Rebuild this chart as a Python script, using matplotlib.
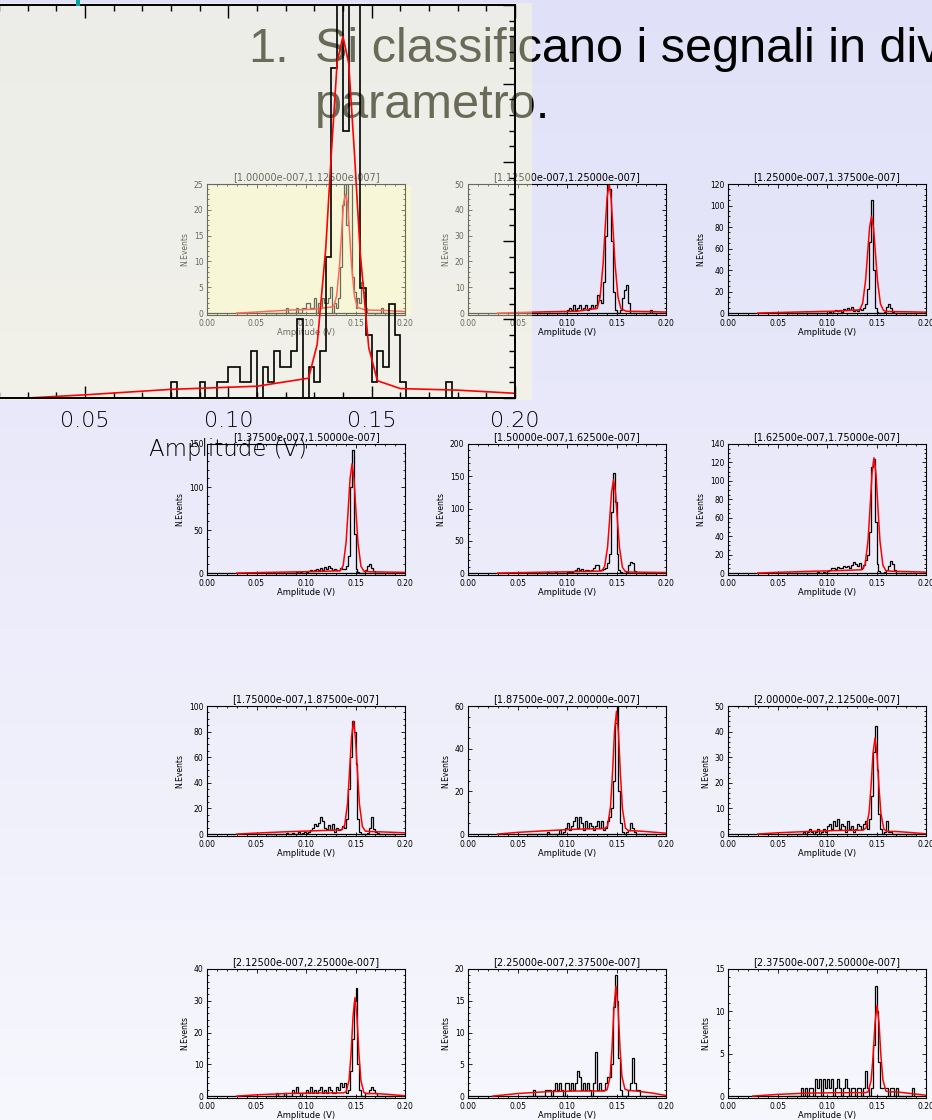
import numpy as np
import matplotlib
matplotlib.use("Agg")
import matplotlib.pyplot as plt
from matplotlib.patches import Rectangle
from matplotlib.ticker import MultipleLocator, FormatStrFormatter

W, H, DPI = 932, 1120, 100

# ---------------- data ----------------
BIN_START = 0.060
BIN_WIDTH = 0.002

titles = [
    "[1.00000e-007,1.12500e-007]", "[1.12500e-007,1.25000e-007]", "[1.25000e-007,1.37500e-007]",
    "[1.37500e-007,1.50000e-007]", "[1.50000e-007,1.62500e-007]", "[1.62500e-007,1.75000e-007]",
    "[1.75000e-007,1.87500e-007]", "[1.87500e-007,2.00000e-007]", "[2.00000e-007,2.12500e-007]",
    "[2.12500e-007,2.25000e-007]", "[2.25000e-007,2.37500e-007]", "[2.37500e-007,2.50000e-007]",
]

y_max = [25, 50, 120, 150, 200, 140, 100, 60, 50, 40, 20, 15]
y_major = [5, 10, 20, 50, 50, 20, 20, 20, 10, 10, 5, 5]
y_minor = [1, 2, 5, 10, 10, 5, 5, 5, 2, 2, 1, 1]

counts_1 = [0,0,0,0,0, 0,0,0,0,0, 1,0,0,0,0, 1,0,0,1,1, 2,2,1,1,3, 0,2,1,3,2, 2,3,5,0,2,
            1,3,9,21,28, 17,30,26,7,4, 1,3,2,6,4, 1,0,0,0,0, 0,0,0,1,0, 0,0,0,0,0]
counts_2 = [0,0,0,0,0, 0,0,0,0,0, 0,0,0,0,0, 0,0,0,0,0, 1,2,1,3,1, 2,3,1,2,3, 1,2,3,2,3,
            7,5,4,12,30, 50,48,28,8,1, 0,0,1,6,9, 11,4,0,0,0, 0,0,0,0,0, 0,0,1,0,0]
counts_3 = [0,0,0,0,0, 0,0,0,0,0, 0,0,0,0,0, 0,0,0,0,0, 0,1,0,2,3, 2,3,1,4,3, 5,3,6,2,3,
            2,4,3,5,8, 22,66,105,40,5, 1,0,0,0,1, 6,8,5,1,0, 0,0,0,0,0, 0,0,0,0,0]
counts_4 = [0,0,0,0,0, 0,0,0,0,0, 0,0,0,0,0, 1,0,1,0,0, 1,2,3,2,4, 5,3,6,4,7, 5,8,6,4,5,
            3,4,6,5,5, 8,20,100,143,45, 5,1,0,0,0, 3,8,10,6,2, 0,0,0,0,0, 0,0,0,0,0]
counts_5 = [0,0,0,0,0, 0,0,0,0,0, 1,0,0,0,1, 0,0,0,0,0, 1,2,1,3,5, 8,4,6,3,5, 4,3,5,8,12,
            12,5,4,6,8, 15,30,95,155,110, 30,5,1,0,0, 2,12,17,16,3, 0,0,0,0,0, 0,0,0,0,0]
counts_6 = [0,0,0,0,0, 0,0,0,0,0, 0,0,0,0,0, 1,0,0,1,0, 2,3,5,6,4, 7,5,6,8,7, 8,6,9,12,10,
            8,11,6,9,14, 20,45,115,124,55, 10,2,0,0,1, 3,8,13,10,3, 0,0,0,0,0, 0,0,0,0,0]
counts_7 = [0,0,0,0,0, 0,0,0,0,0, 1,0,0,1,0, 0,2,0,1,2, 1,2,3,5,8, 6,9,13,10,5, 4,7,3,8,2,
            5,3,4,6,5, 12,35,60,88,80, 55,12,2,0,0, 0,1,5,13,4, 2,1,0,0,0, 0,0,0,0,0]
counts_8 = [0,0,0,0,0, 0,0,0,0,0, 1,0,0,0,0, 0,2,0,1,3, 5,2,4,6,8, 3,8,5,2,6, 3,5,4,2,4,
            6,3,6,2,3, 6,8,12,25,52, 60,20,5,1,0, 1,2,5,3,1, 0,0,0,0,0, 0,0,0,0,0]
counts_9 = [0,0,0,0,0, 0,0,0,1,0, 1,2,1,0,1, 2,0,1,2,1, 3,4,2,5,3, 6,2,4,3,1, 5,2,3,1,2,
            4,3,2,4,5, 2,6,15,32,42, 25,8,2,0,1, 5,1,1,0,0, 0,0,0,0,0, 0,0,0,0,0]
counts_10 = [0,0,0,0,0, 1,0,0,0,1, 0,0,0,2,1, 3,1,0,1,1, 2,1,3,1,2, 1,2,3,1,2, 1,3,2,1,1,
             3,2,4,3,4, 1,2,8,18,30, 34,10,2,0,0, 1,1,2,3,2, 1,0,0,0,0, 0,0,0,0,0]
counts_11 = [0,0,0,1,0, 0,0,0,0,1, 1,1,0,1,2, 1,2,1,0,2, 2,1,2,1,2, 4,3,1,2,1, 2,1,0,2,7,
             1,2,1,1,2, 3,3,5,14,19, 15,6,1,0,0, 0,1,2,6,2, 1,1,0,0,0, 0,0,0,0,0]
counts_12 = [0,0,0,0,0, 0,0,1,0,1, 0,1,1,0,2, 1,2,0,2,1, 2,1,2,0,1, 2,1,0,1,2, 1,0,1,1,0,
             1,1,0,1,3, 1,0,1,6,13, 10,4,1,1,1, 1,0,1,1,0, 1,0,0,0,0, 0,0,0,1,0]

red_x_1 = [0.030, 0.050, 0.080, 0.110, 0.128, 0.131, 0.134, 0.136, 0.138, 0.140, 0.142, 0.144, 0.146, 0.149, 0.152, 0.160, 0.180, 0.200]
red_y_1 = [0.0, 0.2, 0.55, 0.75, 1.26, 3.4, 9.5, 15.7, 21.4, 23.0, 21.3, 15.6, 9.3, 3.2, 1.1, 0.6, 0.5, 0.3]
red_x_2 = [0.030, 0.050, 0.080, 0.110, 0.1305, 0.1335, 0.1365, 0.1385, 0.1405, 0.1425, 0.1445, 0.1465, 0.1485, 0.1515, 0.1545, 0.160, 0.180, 0.200]
red_y_2 = [0.0, 0.2, 0.5, 0.7, 1.8, 6.3, 19.3, 32.6, 44.8, 49.8, 44.7, 32.5, 19.2, 6.2, 1.7, 0.7, 0.6, 0.4]
red_x_3 = [0.030, 0.050, 0.080, 0.110, 0.133, 0.136, 0.139, 0.141, 0.143, 0.145, 0.147, 0.149, 0.151, 0.154, 0.157, 0.160, 0.180, 0.200]
red_y_3 = [0.0, 0.5, 1.2, 1.8, 3.0, 9.0, 30.6, 55.4, 79.7, 90.0, 79.2, 54.9, 30.1, 8.5, 2.5, 1.5, 1.2, 0.8]
red_x_4 = [0.030, 0.050, 0.080, 0.110, 0.1345, 0.1375, 0.1405, 0.1425, 0.1445, 0.1465, 0.1485, 0.1505, 0.1525, 0.1555, 0.1585, 0.165, 0.180, 0.200]
red_y_4 = [0.0, 0.5, 1.2, 1.8, 2.6, 8.5, 35.6, 71.6, 110.0, 127.0, 109.5, 71.0, 35.0, 8.0, 2.1, 1.5, 1.2, 0.8]
red_x_5 = [0.030, 0.050, 0.080, 0.110, 0.135, 0.138, 0.141, 0.143, 0.145, 0.147, 0.149, 0.151, 0.153, 0.156, 0.159, 0.165, 0.180, 0.200]
red_y_5 = [0.0, 0.6, 1.5, 2.2, 3.2, 9.9, 40.7, 81.5, 125.2, 144.5, 124.2, 80.6, 39.7, 8.9, 2.2, 1.5, 1.2, 0.8]
red_x_6 = [0.030, 0.050, 0.080, 0.110, 0.1355, 0.1385, 0.1415, 0.1435, 0.1455, 0.1475, 0.1495, 0.1515, 0.1535, 0.1565, 0.1595, 0.165, 0.180, 0.200]
red_y_6 = [0.0, 0.8, 1.8, 2.6, 3.6, 9.3, 35.8, 71.0, 108.4, 125.0, 107.4, 70.0, 34.8, 8.3, 2.6, 2.0, 1.6, 1.0]
red_x_7 = [0.030, 0.050, 0.080, 0.110, 0.136, 0.139, 0.142, 0.144, 0.146, 0.148, 0.150, 0.152, 0.154, 0.157, 0.160, 0.165, 0.180, 0.200]
red_y_7 = [0.0, 0.8, 1.8, 2.6, 3.3, 6.7, 24.2, 48.9, 75.8, 88.0, 74.8, 47.9, 23.2, 5.7, 2.3, 2.0, 1.6, 1.0]
red_x_8 = [0.030, 0.050, 0.080, 0.110, 0.138, 0.141, 0.144, 0.146, 0.148, 0.150, 0.152, 0.154, 0.156, 0.159, 0.162, 0.170, 0.185, 0.200]
red_y_8 = [0.0, 0.8, 1.6, 2.3, 2.6, 3.8, 13.0, 28.9, 48.3, 57.5, 47.3, 27.9, 12.0, 2.8, 1.6, 1.5, 1.0, 0.4]
red_x_9 = [0.030, 0.050, 0.080, 0.110, 0.1365, 0.1395, 0.1425, 0.1445, 0.1465, 0.1485, 0.1505, 0.1525, 0.1545, 0.1575, 0.1605, 0.170, 0.185, 0.200]
red_y_9 = [0.0, 0.5, 1.0, 1.4, 1.55, 2.4, 8.4, 18.8, 31.5, 37.5, 31.0, 18.3, 7.9, 1.9, 1.05, 1.0, 0.6, 0.1]
red_x_10 = [0.030, 0.050, 0.080, 0.110, 0.1375, 0.1405, 0.1435, 0.1455, 0.1475, 0.1495, 0.1515, 0.1535, 0.1555, 0.1585, 0.1615, 0.170, 0.185, 0.200]
red_y_10 = [0.0, 0.4, 0.8, 1.0, 1.0, 1.3, 5.0, 13.3, 25.0, 31.0, 24.8, 13.1, 4.8, 1.1, 0.8, 0.8, 0.5, 0.1]
red_x_11 = [0.025, 0.050, 0.080, 0.110, 0.1375, 0.1405, 0.1435, 0.1455, 0.1475, 0.1495, 0.1515, 0.1535, 0.1555, 0.1585, 0.1615, 0.170, 0.185, 0.200]
red_y_11 = [0.0, 0.4, 0.7, 0.8, 0.8, 1.0, 3.0, 7.6, 14.0, 17.3, 14.1, 7.7, 3.1, 1.1, 0.9, 0.8, 0.5, 0.1]
red_x_12 = [0.025, 0.050, 0.080, 0.110, 0.1385, 0.1415, 0.1445, 0.1465, 0.1485, 0.1505, 0.1525, 0.1545, 0.1565, 0.1595, 0.1625, 0.170, 0.185, 0.200]
red_y_12 = [0.0, 0.2, 0.35, 0.4, 0.4, 0.5, 1.8, 4.6, 8.6, 10.7, 8.7, 4.7, 1.9, 0.6, 0.5, 0.5, 0.3, 0.1]

all_counts = [counts_1, counts_2, counts_3, counts_4, counts_5, counts_6,
              counts_7, counts_8, counts_9, counts_10, counts_11, counts_12]
all_red_x = [red_x_1, red_x_2, red_x_3, red_x_4, red_x_5, red_x_6,
             red_x_7, red_x_8, red_x_9, red_x_10, red_x_11, red_x_12]
all_red_y = [red_y_1, red_y_2, red_y_3, red_y_4, red_y_5, red_y_6,
             red_y_7, red_y_8, red_y_9, red_y_10, red_y_11, red_y_12]

slide_line1 = "Si classificano i segnali in diversi intervalli del"
slide_line2 = "parametro."
x_tick_vals = [0.00, 0.05, 0.10, 0.15, 0.20]

# ---------------- layout ----------------
fig = plt.figure(figsize=(W / DPI, H / DPI), dpi=DPI)


def px_box(left, top, width, height):
    return [left / W, 1 - (top + height) / H, width / W, height / H]


# slide background gradient
bg = fig.add_axes([0, 0, 1, 1], zorder=-5)
t = np.linspace(0, 1, 256)[:, None, None]
top_c = np.array([0.880, 0.880, 0.975])[None, None, :]
bot_c = np.array([0.968, 0.968, 0.993])[None, None, :]
bg.imshow(top_c * (1 - t) + bot_c * t, aspect="auto", extent=[0, 1, 0, 1])
bg.axis("off")

# slide text
fig.text(248 / W, 1 - 62 / H, "1.", fontsize=35, family="Liberation Sans",
         color="black", va="baseline", zorder=0.3)
fig.text(315 / W, 1 - 62 / H, slide_line1, fontsize=35, family="Liberation Sans",
         color="black", va="baseline", zorder=0.3)
fig.text(315 / W, 1 - 118 / H, slide_line2, fontsize=35, family="Liberation Sans",
         color="black", va="baseline", zorder=0.3)

# highlight behind first panel
fig.add_artist(Rectangle((207 / W, 1 - 315 / H), (411 - 207) / W, (315 - 186) / H,
                         transform=fig.transFigure, facecolor=(0.95, 0.95, 0.86),
                         edgecolor="none", zorder=0.45))

col_left = [207, 468, 728]
row_top = [184, 444, 706, 969]
row_h = [131, 131, 130, 129]
PW = 198
edges = BIN_START + BIN_WIDTH * np.arange(len(counts_1) + 1)


def style_small(ax, k):
    ax.set_xlim(0, 0.2)
    ax.set_ylim(-0.015 * y_max[k], y_max[k])
    ax.xaxis.set_major_locator(MultipleLocator(0.05))
    ax.xaxis.set_minor_locator(MultipleLocator(0.01))
    ax.yaxis.set_major_locator(MultipleLocator(y_major[k]))
    ax.yaxis.set_minor_locator(MultipleLocator(y_minor[k]))
    ax.xaxis.set_major_formatter(FormatStrFormatter("%.2f"))
    ax.set_xticks(x_tick_vals)
    ax.tick_params(which="both", direction="in", top=True, right=True, width=0.6,
                   labelsize=5.5, pad=2.6, colors="black")
    ax.tick_params(which="major", length=3.2)
    ax.tick_params(which="minor", length=1.6)
    for s in ax.spines.values():
        s.set_linewidth(0.8)
    ax.set_title(titles[k], fontsize=7, pad=2.5)
    ax.set_xlabel("Amplitude (V)", fontsize=6.0, labelpad=0.3)
    ax.set_ylabel("N.Events", fontsize=5.5, labelpad=3)


for k in range(12):
    r, c = divmod(k, 3)
    ax = fig.add_axes(px_box(col_left[c], row_top[r], PW, row_h[r]), zorder=0.5)
    ax.set_facecolor("none")
    ax.axhline(0, color="black", lw=0.9)
    ax.stairs(all_counts[k], edges, color="black", lw=0.9)
    ax.plot(all_red_x[k], all_red_y[k], color="red", lw=1.1)
    style_small(ax, k)

# semi-transparent magnifier overlay
fig.add_artist(Rectangle((0, 1 - 400 / H), 532 / W, 397 / H, transform=fig.transFigure,
                         facecolor=(1.0, 1.0, 0.83), alpha=0.42, edgecolor="none", zorder=1))

ov = fig.add_axes(px_box(-58.5, 5, 573.5, 393), zorder=2)
ov.set_facecolor("none")
ov.stairs(counts_1, edges, color="black", lw=1.2)
ov.plot(red_x_1, red_y_1, color="red", lw=1.2)
ov.set_xlim(0, 0.2)
ov.set_ylim(0, 25)
ov.xaxis.set_major_locator(MultipleLocator(0.05))
ov.xaxis.set_minor_locator(MultipleLocator(0.01))
ov.yaxis.set_major_locator(MultipleLocator(5))
ov.yaxis.set_minor_locator(MultipleLocator(1))
ov.xaxis.set_major_formatter(FormatStrFormatter("%.2f"))
ov.tick_params(which="both", direction="in", top=True, right=True, width=1.0,
               labelsize=16, pad=9.5, labelleft=False)
ov.tick_params(which="major", length=9)
ov.tick_params(which="minor", length=4.5)
for lab in ov.get_xticklabels():
    lab.set_fontweight("light")
for s in ov.spines.values():
    s.set_linewidth(1.4)
ov.set_xlabel("Amplitude (V)", fontsize=16.5, labelpad=5, fontweight="light")

# small teal mark at the top-left
fig.add_artist(Rectangle((76 / W, 1 - 6 / H), 4 / W, 6 / H, transform=fig.transFigure,
                         facecolor="#00a0a0", edgecolor="none", zorder=3))

fig.savefig("out.png", dpi=DPI)
